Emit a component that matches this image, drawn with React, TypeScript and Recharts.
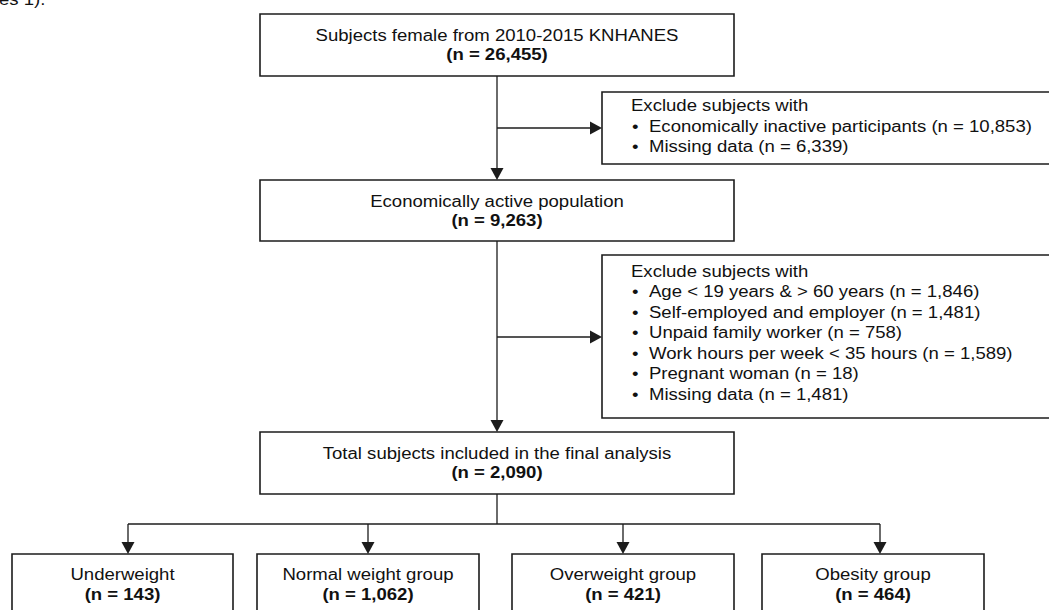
import React from 'react';
import { ScatterChart, Scatter, XAxis, YAxis, ReferenceArea, ReferenceLine } from 'recharts';

// ---------- data ----------
const stageTitles = [
  'Subjects female from 2010-2015 KNHANES',
  'Economically active population',
  'Total subjects included in the final analysis',
];
const stageCounts = [26455, 9263, 2090];

const exclusionHeader = 'Exclude subjects with';
const exclusion1Reasons = ['Economically inactive participants', 'Missing data'];
const exclusion1Counts = [10853, 6339];
const exclusion2Reasons = [
  'Age < 19 years & > 60 years',
  'Self-employed and employer',
  'Unpaid family worker',
  'Work hours per week < 35 hours',
  'Pregnant woman',
  'Missing data',
];
const exclusion2Counts = [1846, 1481, 758, 1589, 18, 1481];

const groupNames = ['Underweight', 'Normal weight group', 'Overweight group', 'Obesity group'];
const groupCounts = [143, 1062, 421, 464];

const captionFragment = 'es 1).';

// ---------- layout (chart units) ----------
const W = 1049;
const H = 610;
const SPINE_X = 497;
const stageBoxes = [
  { x1: 260, x2: 734, y1: 14, y2: 76 },
  { x1: 260, x2: 734, y1: 180, y2: 241 },
  { x1: 260, x2: 734, y1: 432, y2: 494 },
];
const exclBoxes = [
  { x1: 602, x2: 1062, y1: 92, y2: 164, arrowY: 128, firstBaseline: 111 },
  { x1: 602, x2: 1062, y1: 255, y2: 418, arrowY: 337, firstBaseline: 276.5 },
];
const groupBoxes = [
  { x1: 12, x2: 233, arrowX: 128 },
  { x1: 257, x2: 479, arrowX: 368 },
  { x1: 512, x2: 734, arrowX: 623 },
  { x1: 762, x2: 984, arrowX: 880 },
];
const GROUP_TOP = 554;
const GROUP_BOTTOM = 630;
const BRANCH_Y = 524;
const LINE_PITCH = 20.5;
const TEXT_X = 631;
const BULLET_X = 632;
const ITEM_X = 649;

const SX = 1.16;
const FONT = '"Liberation Sans", Arial, Helvetica, sans-serif';
const INK = '#1c1c1c';

const fmt = (n: number) => n.toLocaleString('en-US');

type TextItem = { x: number; y: number; text: string; bold?: boolean; anchor?: 'start' | 'middle' };

const textItems: TextItem[] = [];
stageTitles.forEach((t, i) => {
  const b = stageBoxes[i];
  textItems.push({ x: SPINE_X, y: b.y1 + 27, text: t, anchor: 'middle' });
  textItems.push({ x: SPINE_X, y: b.y1 + 45.5, text: `(n = ${fmt(stageCounts[i])})`, bold: true, anchor: 'middle' });
});
[
  { reasons: exclusion1Reasons, counts: exclusion1Counts },
  { reasons: exclusion2Reasons, counts: exclusion2Counts },
].forEach((ex, k) => {
  const b = exclBoxes[k];
  textItems.push({ x: TEXT_X, y: b.firstBaseline, text: exclusionHeader, anchor: 'start' });
  ex.reasons.forEach((r, j) => {
    const y = b.firstBaseline + LINE_PITCH * (j + 1);
    textItems.push({ x: BULLET_X, y, text: '•', anchor: 'start' });
    textItems.push({ x: ITEM_X, y, text: `${r} (n = ${fmt(ex.counts[j])})`, anchor: 'start' });
  });
});
groupNames.forEach((g, i) => {
  const b = groupBoxes[i];
  const cx = (b.x1 + b.x2) / 2;
  textItems.push({ x: cx, y: GROUP_TOP + 25.5, text: g, anchor: 'middle' });
  textItems.push({ x: cx, y: GROUP_TOP + 45.5, text: `(n = ${fmt(groupCounts[i])})`, bold: true, anchor: 'middle' });
});
textItems.push({ x: -1, y: 5, text: captionFragment, anchor: 'start' });

type Tip = { x: number; y: number; dir: 'down' | 'right' };
const arrowTips: Tip[] = [
  { x: SPINE_X, y: stageBoxes[1].y1, dir: 'down' },
  { x: SPINE_X, y: stageBoxes[2].y1, dir: 'down' },
  ...exclBoxes.map((b) => ({ x: b.x1, y: b.arrowY, dir: 'right' as const })),
  ...groupBoxes.map((b) => ({ x: b.arrowX, y: GROUP_TOP, dir: 'down' as const })),
];

type Seg = [{ x: number; y: number }, { x: number; y: number }];
const segments: Seg[] = [
  [{ x: SPINE_X, y: stageBoxes[0].y2 }, { x: SPINE_X, y: stageBoxes[1].y1 - 4 }],
  [{ x: SPINE_X, y: stageBoxes[1].y2 }, { x: SPINE_X, y: stageBoxes[2].y1 - 4 }],
  ...exclBoxes.map((b) => [{ x: SPINE_X, y: b.arrowY }, { x: b.x1 - 4, y: b.arrowY }] as Seg),
  [{ x: SPINE_X, y: stageBoxes[2].y2 }, { x: SPINE_X, y: BRANCH_Y }],
  [{ x: groupBoxes[0].arrowX, y: BRANCH_Y }, { x: groupBoxes[3].arrowX, y: BRANCH_Y }],
  ...groupBoxes.map((b) => [{ x: b.arrowX, y: BRANCH_Y }, { x: b.arrowX, y: GROUP_TOP - 4 }] as Seg),
];

const allBoxes = [
  ...stageBoxes,
  ...exclBoxes.map((b) => ({ x1: b.x1, x2: b.x2, y1: b.y1, y2: b.y2 })),
  ...groupBoxes.map((b) => ({ x1: b.x1, x2: b.x2, y1: GROUP_TOP, y2: GROUP_BOTTOM })),
];

const TextShape = (props: any) => {
  const { cx, cy, payload } = props;
  if (cx == null || cy == null) return <g />;
  const p = payload as TextItem;
  return (
    <g transform={`translate(${cx},${cy}) scale(${SX},1)`}>
      <text
        x={0}
        y={0}
        textAnchor={p.anchor || 'middle'}
        fontFamily={FONT}
        fontSize={16}
        fontWeight={p.bold ? 700 : 400}
        fill="#111"
      >
        {p.text}
      </text>
    </g>
  );
};

const TipShape = (props: any) => {
  const { cx, cy, payload } = props;
  if (cx == null || cy == null) return <g />;
  const d =
    payload.dir === 'down'
      ? `M${cx - 6.5},${cy - 12} L${cx + 6.5},${cy - 12} L${cx},${cy} Z`
      : `M${cx - 12},${cy - 6.5} L${cx - 12},${cy + 6.5} L${cx},${cy} Z`;
  return <path d={d} fill={INK} stroke="none" />;
};

export default function App() {
  return (
    <div style={{ position: 'absolute', left: 0, top: 0, width: W, height: H, background: '#fff', overflow: 'hidden' }}>
      <ScatterChart width={W} height={H} margin={{ top: 0, right: 0, bottom: 0, left: 0 }}>
        <XAxis type="number" dataKey="x" domain={[0, W]} hide allowDataOverflow />
        <YAxis type="number" dataKey="y" domain={[0, H]} reversed hide allowDataOverflow />
        {allBoxes.map((b, i) => (
          <ReferenceArea
            key={`box-${i}`}
            x1={b.x1}
            x2={b.x2}
            y1={b.y1}
            y2={b.y2}
            fill="#ffffff"
            fillOpacity={1}
            stroke={INK}
            strokeWidth={1.6}
            ifOverflow="visible"
          />
        ))}
        {segments.map((s, i) => (
          <ReferenceLine key={`seg-${i}`} segment={s} stroke={INK} strokeWidth={1.3} ifOverflow="visible" />
        ))}
        <Scatter data={arrowTips} shape={TipShape} isAnimationActive={false} />
        <Scatter data={textItems} shape={TextShape} isAnimationActive={false} />
      </ScatterChart>
    </div>
  );
}
